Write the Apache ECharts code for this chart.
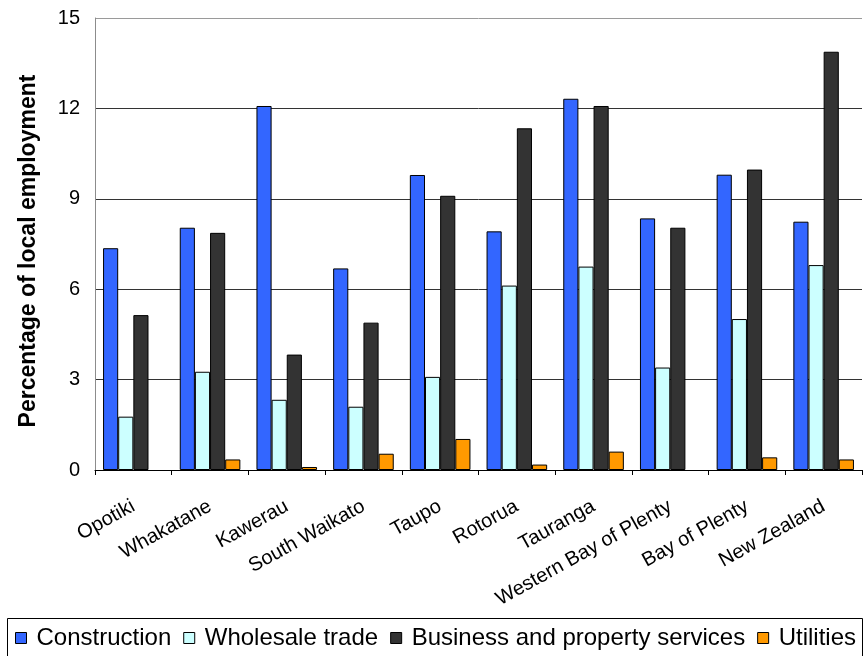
<!DOCTYPE html>
<html>
<head>
<meta charset="utf-8">
<script src="https://cdn.jsdelivr.net/npm/echarts@6/dist/echarts.min.js"></script>
<style>
  html, body { margin: 0; padding: 0; background: #ffffff; }
  #chart { width: 863px; height: 656px; }
</style>
</head>
<body>
<div id="chart"></div>
<script>
// Districts along the category axis
const districts = ['Opotiki', 'Whakatane', 'Kawerau', 'South Waikato', 'Taupo', 'Rotorua',
  'Tauranga', 'Western Bay of Plenty', 'Bay of Plenty', 'New Zealand'];

// Share of local employment by industry (%)
const construction = [7.36, 8.04, 12.08, 6.69, 9.79, 7.92, 12.32, 8.35, 9.80, 8.24];
const wholesaleTrade = [1.77, 3.26, 2.33, 2.10, 3.09, 6.12, 6.75, 3.40, 5.01, 6.80];
const businessServices = [5.14, 7.87, 3.83, 4.89, 9.10, 11.34, 12.08, 8.04, 9.97, 13.88];
const utilities = [null, 0.35, 0.10, 0.54, 1.03, 0.18, 0.61, null, 0.42, 0.35];

// Value axis ticks
const yTicks = [0, 3, 6, 9, 12, 15];

const FONT = 'Arial, "Liberation Sans", sans-serif';

function barSeries(name, data, color) {
  return {
    name: name,
    type: 'bar',
    data: data,
    barGap: '0%',
    barCategoryGap: '21%',
    itemStyle: { color: color, borderColor: '#000000', borderWidth: 1 },
    emphasis: { disabled: true }
  };
}

const chart = echarts.init(document.getElementById('chart'), null, { renderer: 'canvas' });

chart.setOption({
  animation: false,
  backgroundColor: '#ffffff',
  grid: { left: 95, right: 1, top: 18, bottom: 186, containLabel: false },
  xAxis: {
    type: 'category',
    data: districts,
    axisLine: { show: true, lineStyle: { color: '#000000', width: 1 } },
    axisTick: { show: true, length: 5, lineStyle: { color: '#000000' } },
    axisLabel: {
      rotate: 29,
      margin: 35,
      interval: 0,
      color: '#000000',
      fontFamily: FONT,
      fontSize: 20
    },
    splitLine: { show: false }
  },
  yAxis: {
    type: 'value',
    min: yTicks[0],
    max: yTicks[yTicks.length - 1],
    interval: yTicks[1] - yTicks[0],
    name: 'Percentage of local employment',
    nameLocation: 'middle',
    nameGap: 55,
    nameTextStyle: {
      color: '#000000', fontFamily: FONT, fontSize: 23, fontWeight: 'bold',
      padding: [0, 14, 0, 0]
    },
    axisLine: { show: true, lineStyle: { color: '#8c8c8c', width: 1 } },
    axisTick: { show: false },
    axisLabel: { margin: 15, color: '#000000', fontFamily: FONT, fontSize: 20 },
    splitLine: {
      show: true,
      lineStyle: { color: ['#000000', '#333333', '#333333', '#333333', '#333333', '#9a9a9a'], width: 1 }
    }
  },
  legend: {
    left: 15,
    top: 626,
    padding: 0,
    itemGap: 12,
    itemWidth: 11,
    itemHeight: 11,
    icon: 'rect',
    itemStyle: { borderColor: '#000000', borderWidth: 1 },
    textStyle: { color: '#000000', fontFamily: FONT, fontSize: 24, padding: [0, 0, 0, 5] },
    selectedMode: false
  },
  graphic: [{
    type: 'rect',
    shape: { x: 7.5, y: 618.5, width: 855, height: 50 },
    style: { fill: 'none', stroke: '#000000', lineWidth: 1 },
    silent: true
  }],
  series: [
    barSeries('Construction', construction, '#3366ff'),
    barSeries('Wholesale trade', wholesaleTrade, '#ccffff'),
    barSeries('Business and property services', businessServices, '#333333'),
    barSeries('Utilities', utilities, '#ff9900')
  ]
});
</script>
</body>
</html>
